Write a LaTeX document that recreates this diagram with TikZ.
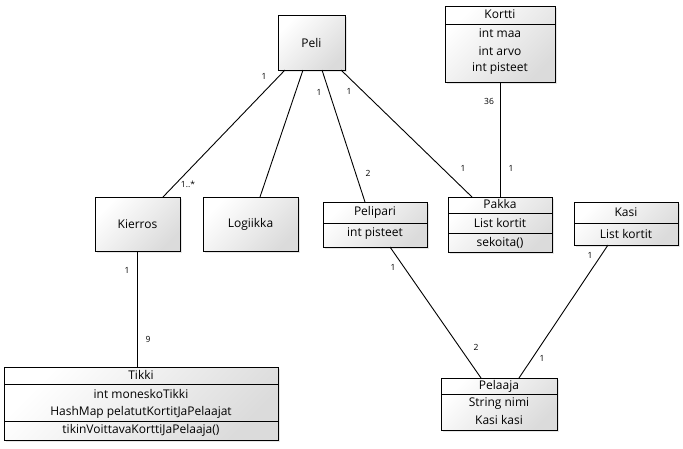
\documentclass[tikz,border=0pt]{standalone}
\usepackage{fontspec}
\setmainfont{Open Sans}
\usetikzlibrary{shadows}
\begin{document}
\begin{tikzpicture}[x=1pt,y=-1pt,
  cls/.style={draw=black, line width=0.9pt, top color=white, bottom color=black!14,
    shading angle=45, drop shadow={opacity=0.2, shadow xshift=2pt, shadow yshift=-2pt},
    inner sep=0pt, outer sep=0pt},
  txt/.style={font=\fontsize{12}{14}\selectfont, inner sep=0pt},
  mult/.style={font=\fontsize{8.5}{10}\selectfont, inner sep=0pt},
  sep/.style={line width=0.9pt},
  conn/.style={line width=0.9pt}]
\useasboundingbox (0,0) rectangle (683,448);

% boxes
\node[cls, minimum width=67pt, minimum height=55pt] (peli) at (311.5,42.5) {};
\node[cls, minimum width=110pt, minimum height=76pt] (kortti) at (500,44) {};
\node[cls, minimum width=85pt, minimum height=54pt] (kierros) at (137.5,224) {};
\node[cls, minimum width=95pt, minimum height=54pt] (logiikka) at (250.5,224) {};
\node[cls, minimum width=104pt, minimum height=45pt] (pelipari) at (375,224.5) {};
\node[cls, minimum width=104pt, minimum height=55pt] (pakka) at (500,224.5) {};
\node[cls, minimum width=104pt, minimum height=43pt] (kasi) at (626,223.5) {};
\node[cls, minimum width=274pt, minimum height=73pt] (tikki) at (141,403.5) {};
\node[cls, minimum width=116pt, minimum height=52pt] (pelaaja) at (499,404) {};

% separators
\draw[sep] (kortti.west |- 0,24) -- (kortti.east |- 0,24);
\draw[sep] (pelipari.west |- 0,223) -- (pelipari.east |- 0,223);
\draw[sep] (pakka.west |- 0,213) -- (pakka.east |- 0,213);
\draw[sep] (pakka.west |- 0,233) -- (pakka.east |- 0,233);
\draw[sep] (kasi.west |- 0,223) -- (kasi.east |- 0,223);
\draw[sep] (tikki.west |- 0,384) -- (tikki.east |- 0,384);
\draw[sep] (tikki.west |- 0,421) -- (tikki.east |- 0,421);
\draw[sep] (pelaaja.west |- 0,394) -- (pelaaja.east |- 0,394);

% texts
\node[txt] (t-peli) at (peli) {Peli};
\node[txt] (t-kierros) at (kierros) {Kierros};
\node[txt] (t-logiikka) at (logiikka) {Logiikka};
\node[txt] (t-kortti) at (500,14) {Kortti};
\node[txt] (t-kortti1) at (500,33) {int maa};
\node[txt] (t-kortti2) at (500,51) {int arvo};
\node[txt] (t-kortti3) at (500,69) {int pisteet};
\node[txt] (t-pelipari) at (375,212.5) {Pelipari};
\node[txt] (t-pelipari1) at (375,234) {int pisteet};
\node[txt] (t-pakka) at (500,204) {Pakka};
\node[txt] (t-pakka1) at (500,222.5) {List kortit};
\node[txt] (t-pakka2) at (500,242.5) {sekoita()};
\node[txt] (t-kasi) at (626,212.5) {Kasi};
\node[txt] (t-kasi1) at (626,233.5) {List kortit};
\node[txt] (t-tikki) at (141,375) {Tikki};
\node[txt] (t-tikki1) at (141,394) {int moneskoTikki};
\node[txt] (t-tikki2) at (141,412) {HashMap pelatutKortitJaPelaajat};
\node[txt] (t-tikki3) at (141,430.5) {tikinVoittavaKorttiJaPelaaja()};
\node[txt] (t-pelaaja) at (499,386) {Pelaaja};
\node[txt] (t-pelaaja1) at (499,404) {String nimi};
\node[txt] (t-pelaaja2) at (499,420) {Kasi kasi};

% connectors
\draw[conn] ([xshift=-26.5pt]peli.south) -- ([xshift=25.5pt]kierros.north);
\draw[conn] ([xshift=-8.5pt]peli.south) -- ([xshift=9.5pt]logiikka.north);
\draw[conn] ([xshift=10.5pt]peli.south) -- ([xshift=-10pt]pelipari.north);
\draw[conn] ([xshift=29.5pt]peli.south) -- ([xshift=-28pt]pakka.north);
\draw[conn] (kortti.south) -- (pakka.north);
\draw[conn] (kierros.south) -- (kierros.south |- tikki.north);
\draw[conn] ([xshift=15pt]pelipari.south) -- ([xshift=-18pt]pelaaja.north);
\draw[conn] ([xshift=-18pt]kasi.south) -- ([xshift=20pt]pelaaja.north);

% multiplicities
\node[mult] (m1) at (264,76) {1};
\node[mult] (m2) at (188,184) {1..*};
\node[mult] (m3) at (319,92) {1};
\node[mult] (m4) at (368,173) {2};
\node[mult] (m5) at (349,91) {1};
\node[mult] (m6) at (463,168) {1};
\node[mult] (m7) at (489,101) {36};
\node[mult] (m8) at (511,168) {1};
\node[mult] (m9) at (127,270) {1};
\node[mult] (m10) at (148,339) {9};
\node[mult] (m11) at (393,267) {1};
\node[mult] (m12) at (476,347) {2};
\node[mult] (m13) at (590,255) {1};
\node[mult] (m14) at (542,358) {1};
\end{tikzpicture}
\end{document}
